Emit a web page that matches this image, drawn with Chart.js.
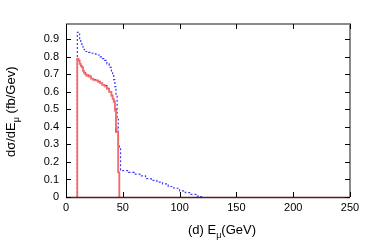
<!DOCTYPE html>
<html>
<head>
<meta charset="utf-8">
<script src="https://cdn.jsdelivr.net/npm/chart.js@4"></script>
<style>
  html, body { margin: 0; padding: 0; background: #fff; }
  #wrap { width: 390px; height: 241px; }
</style>
</head>
<body>
<div id="wrap"><canvas id="c" width="390" height="241"></canvas></div>
<script>
/* ---------- data ---------- */
const xTicks = [0, 50, 100, 150, 200, 250];
const yTicks = [0, 0.1, 0.2, 0.3, 0.4, 0.5, 0.6, 0.7, 0.8, 0.9];

// main red histogram (left bin edge, value)
const redX = [10, 10, 11, 12, 13, 14, 15, 16, 17, 18, 20, 22, 24, 26, 28, 30, 32, 34, 36, 38, 40, 41, 42, 43, 44, 45, 46, 47];
const redY = [0, 0.79, 0.78, 0.76, 0.75, 0.74, 0.72, 0.71, 0.70, 0.695, 0.69, 0.675, 0.67, 0.665, 0.66, 0.65, 0.64, 0.635, 0.62, 0.60, 0.58, 0.56, 0.545, 0.50, 0.37, 0.37, 0.14, 0];

// light red companion histogram
const pinkX = [10, 10, 11, 12, 13, 14, 15, 16, 17, 18, 20, 22, 24, 26, 28, 30, 32, 34, 36, 38, 40, 41, 42, 43, 44, 45, 46, 47];
const pinkY = [0, 0.79, 0.775, 0.76, 0.745, 0.74, 0.72, 0.705, 0.70, 0.69, 0.685, 0.675, 0.665, 0.665, 0.655, 0.65, 0.64, 0.63, 0.615, 0.60, 0.575, 0.56, 0.54, 0.49, 0.40, 0.37, 0.14, 0];

// blue dotted histogram
const blueX = [10, 10, 11, 12, 13, 14, 15, 16, 17, 18, 20, 22, 24, 26, 28, 30, 32, 34, 36, 38, 40, 41, 42, 43, 44, 45, 46, 47, 48, 50, 55, 60, 65, 70, 75, 80, 85, 90, 95, 100, 105, 110, 115, 118, 120];
const blueY = [0, 0.94, 0.93, 0.90, 0.88, 0.86, 0.85, 0.84, 0.83, 0.83, 0.825, 0.82, 0.82, 0.815, 0.81, 0.80, 0.79, 0.78, 0.76, 0.74, 0.72, 0.70, 0.67, 0.63, 0.58, 0.45, 0.30, 0.28, 0.155, 0.15, 0.14, 0.13, 0.12, 0.105, 0.095, 0.085, 0.075, 0.06, 0.05, 0.035, 0.025, 0.015, 0.005, 0.002, 0];

const pts = (xs, ys) => xs.map((x, i) => ({ x: x, y: ys[i] }));
const FONT = '"Liberation Sans", Arial, sans-serif';

/* ---------- frame, inward ticks and axis titles ---------- */
const frame = {
  id: 'frame',
  afterDraw(chart) {
    const ctx = chart.ctx;
    const { left, right, top, bottom } = chart.chartArea;
    const sx = chart.scales.x, sy = chart.scales.y;
    ctx.save();
    // top/right border gray, 2px
    ctx.lineWidth = 2;
    ctx.strokeStyle = '#8a8a8a';
    ctx.beginPath();
    ctx.moveTo(left, top); ctx.lineTo(right, top); ctx.lineTo(right, bottom);
    ctx.stroke();
    ctx.lineWidth = 1;
    ctx.strokeStyle = '#000';
    ctx.beginPath(); ctx.moveTo(left + 0.5, top); ctx.lineTo(left + 0.5, bottom + 1); ctx.stroke();
    ctx.lineWidth = 1.5;
    ctx.strokeStyle = '#5a1c1c';
    ctx.beginPath(); ctx.moveTo(left, bottom + 0.5); ctx.lineTo(right, bottom + 0.5); ctx.stroke();
    ctx.lineWidth = 1;
    // ticks
    ctx.strokeStyle = '#000';
    xTicks.forEach(v => {
      const px = Math.round(sx.getPixelForValue(v)) + 0.5;
      ctx.beginPath(); ctx.moveTo(px, bottom); ctx.lineTo(px, bottom - 5); ctx.stroke();
      ctx.beginPath(); ctx.moveTo(px, top); ctx.lineTo(px, top + 5); ctx.stroke();
    });
    yTicks.forEach(v => {
      const py = Math.round(sy.getPixelForValue(v)) + 0.5;
      ctx.beginPath(); ctx.moveTo(left, py); ctx.lineTo(left + 5, py); ctx.stroke();
      ctx.beginPath(); ctx.moveTo(right, py); ctx.lineTo(right - 5, py); ctx.stroke();
    });

    // x title: (d) E_mu(GeV)
    ctx.fillStyle = '#000';
    ctx.textBaseline = 'alphabetic';
    ctx.textAlign = 'left';
    const big = '13px ' + FONT, small = '9px ' + FONT;
    let x = 188, y = 234;
    ctx.font = big; ctx.fillText('(d) E', x, y); x += ctx.measureText('(d) E').width;
    ctx.font = small; ctx.fillText('\u03bc', x, y + 4); x += ctx.measureText('\u03bc').width;
    ctx.font = big; ctx.fillText('(GeV)', x, y);

    // y title: dσ/dE_mu (fb/Gev), rotated
    ctx.translate(15, 157);
    ctx.rotate(-Math.PI / 2);
    x = 0; y = 0;
    ctx.font = big; ctx.fillText('d\u03c3/dE', x, y); x += ctx.measureText('d\u03c3/dE').width;
    ctx.font = small; ctx.fillText('\u03bc', x, y + 4); x += ctx.measureText('\u03bc').width;
    ctx.font = big; ctx.fillText(' (fb/Gev)', x, y);
    ctx.restore();
  }
};

new Chart(document.getElementById('c'), {
  type: 'line',
  data: {
    datasets: [
      {
        label: 'pink',
        data: pts(pinkX, pinkY),
        stepped: true,
        borderColor: 'rgba(242,130,130,0.8)',
        borderWidth: 1.8,
        pointRadius: 0,
        fill: false
      },
      {
        label: 'red',
        data: pts(redX, redY),
        stepped: true,
        borderColor: '#ee0000',
        borderWidth: 1.3,
        pointRadius: 0,
        fill: false
      },
      {
        label: 'blue',
        data: pts(blueX, blueY),
        stepped: true,
        borderColor: '#3a3aff',
        borderWidth: 1.2,
        borderDash: [2, 2],
        pointRadius: 0,
        fill: false
      }
    ]
  },
  options: {
    responsive: false,
    animation: false,
    events: [],
    layout: { padding: { top: 24, right: 40, left: 0, bottom: 0 } },
    plugins: { legend: { display: false }, tooltip: { enabled: false } },
    scales: {
      x: {
        type: 'linear',
        min: 0, max: 250,
        afterBuildTicks: s => { s.ticks = xTicks.map(v => ({ value: v })); },
        afterFit: s => { s.height = 44; },
        grid: { display: false, drawTicks: false },
        border: { display: false },
        ticks: { color: '#000', padding: 4, font: { family: FONT, size: 11 }, maxRotation: 0 }
      },
      y: {
        min: 0, max: 0.987,
        afterBuildTicks: s => { s.ticks = yTicks.map(v => ({ value: v })); },
        afterFit: s => { s.width = 66; },
        grid: { display: false, drawTicks: false },
        border: { display: false },
        ticks: { color: '#000', padding: 7, font: { family: FONT, size: 11 }, callback: v => String(Math.round(v * 10) / 10) }
      }
    }
  },
  plugins: [frame]
});
</script>
</body>
</html>
